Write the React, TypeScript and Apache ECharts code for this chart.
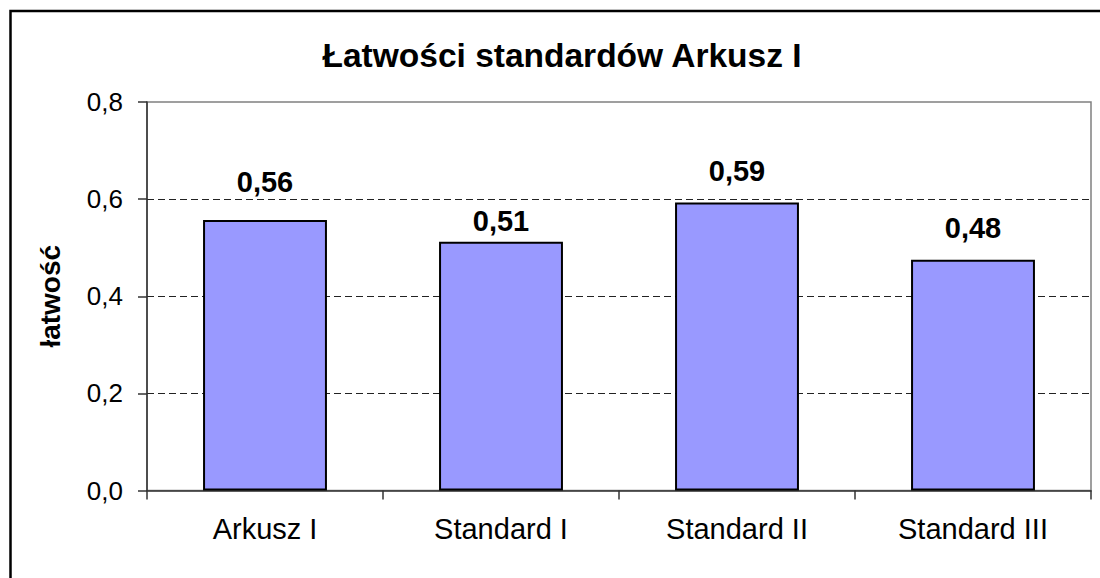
import React, { useEffect, useRef } from "react";
import * as echarts from "echarts";

const TITLE = "Łatwości standardów Arkusz I";
const Y_NAME = "łatwość";
const categories = ["Arkusz I", "Standard I", "Standard II", "Standard III"];
const values = [0.557, 0.512, 0.593, 0.475];
const labelValues = ["0,56", "0,51", "0,59", "0,48"];
const labelDistances = [24, 6, 17, 17];

const FONT = "'Liberation Sans', Arial, sans-serif";

export default function App() {
  const ref = useRef<HTMLDivElement>(null);
  useEffect(() => {
    const chart = echarts.init(ref.current!, null, { renderer: "svg" });
    chart.setOption({
      animation: false,
      backgroundColor: "#ffffff",
      textStyle: { fontFamily: FONT },
      title: {
        text: TITLE,
        left: 557,
        top: 33,
        textAlign: "center",
        textStyle: { fontFamily: FONT, fontSize: 33.5, fontWeight: "bold", color: "#000" },
      },
      graphic: [
        {
          type: "rect",
          shape: { x: 10.5, y: 11, width: 1200, height: 700 },
          style: { fill: "none", stroke: "#000", lineWidth: 2.5 },
          silent: true,
          z: 100,
        },
      ],
      grid: {
        left: 147,
        top: 102,
        right: 9,
        bottom: 87.5,
        show: true,
        borderColor: "#808080",
        borderWidth: 1.5,
        backgroundColor: "#fff",
      },
      xAxis: {
        type: "category",
        data: categories,
        axisLine: { lineStyle: { color: "#333", width: 1.5 } },
        axisTick: { show: true, length: 9, alignWithLabel: false, lineStyle: { color: "#333", width: 1.5 } },
        axisLabel: { fontFamily: FONT, fontSize: 29, color: "#000", margin: 24 },
      },
      yAxis: {
        type: "value",
        min: 0,
        max: 0.8,
        interval: 0.2,
        name: Y_NAME,
        nameLocation: "middle",
        nameRotate: 90,
        nameGap: 83,
        nameTextStyle: { fontFamily: FONT, fontSize: 28, fontWeight: "bold", color: "#000" },
        axisLine: { show: true, lineStyle: { color: "#333", width: 1.5 } },
        axisTick: { show: true, length: 9, lineStyle: { color: "#333", width: 1.5 } },
        axisLabel: {
          fontFamily: FONT,
          fontSize: 26,
          color: "#000",
          margin: 24,
          formatter: (v: number) => v.toFixed(1).replace(".", ","),
        },
        splitLine: {
          show: true,
          showMinLine: false,
          showMaxLine: false,
          lineStyle: { color: "#222", type: [7, 4], width: 1 },
        },
      },
      series: [
        {
          type: "bar",
          data: values.map((v, i) => ({
            value: v,
            label: { distance: labelDistances[i] },
          })),
          barWidth: "52.5%",
          itemStyle: { color: "#9999FF", borderColor: "#000", borderWidth: 2 },
          label: {
            show: true,
            position: "top",
            fontFamily: FONT,
            fontSize: 29,
            fontWeight: "bold",
            color: "#000",
            formatter: (p: any) => labelValues[p.dataIndex],
          },
        },
      ],
    });
    return () => chart.dispose();
  }, []);
  return (
    <div
      ref={ref}
      style={{ position: "fixed", left: 0, top: 0, width: 1100, height: 578 }}
    />
  );
}
